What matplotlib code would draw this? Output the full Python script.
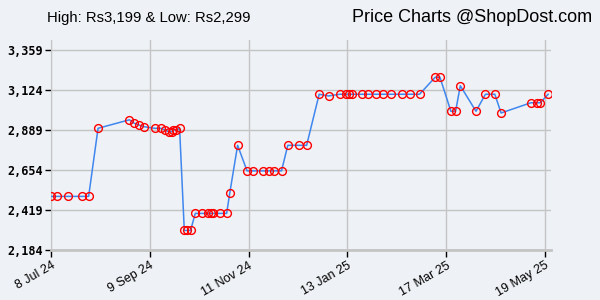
import numpy as np
import matplotlib
matplotlib.use("Agg")
import matplotlib.pyplot as plt
import matplotlib.dates as mdates
from datetime import datetime

# price history
dates = ["2024-07-08", "2024-07-12", "2024-07-19", "2024-07-28", "2024-08-01",
         "2024-08-07", "2024-08-27", "2024-08-30", "2024-09-02", "2024-09-05",
         "2024-09-12", "2024-09-16", "2024-09-19", "2024-09-21", "2024-09-23",
         "2024-09-24", "2024-09-26", "2024-09-28", "2024-10-01", "2024-10-03",
         "2024-10-05", "2024-10-08", "2024-10-12", "2024-10-16", "2024-10-18",
         "2024-10-19", "2024-10-24", "2024-10-28", "2024-10-30", "2024-11-04",
         "2024-11-10", "2024-11-14", "2024-11-20", "2024-11-24", "2024-11-27",
         "2024-12-02", "2024-12-06", "2024-12-13", "2024-12-18", "2024-12-26",
         "2025-01-01", "2025-01-08", "2025-01-12", "2025-01-14", "2025-01-16",
         "2025-01-22", "2025-01-26", "2025-01-31", "2025-02-05", "2025-02-10",
         "2025-02-17", "2025-02-22", "2025-02-28", "2025-03-10", "2025-03-13",
         "2025-03-20", "2025-03-23", "2025-03-26", "2025-04-05", "2025-04-11",
         "2025-04-17", "2025-04-21", "2025-05-10", "2025-05-14", "2025-05-16",
         "2025-05-21"]
prices = [2499, 2499, 2499, 2499, 2499,
          2899, 2949, 2929, 2919, 2909,
          2899, 2899, 2889, 2879, 2879,
          2889, 2889, 2899, 2299, 2299,
          2299, 2399, 2399, 2399, 2399,
          2399, 2399, 2399, 2519, 2799,
          2649, 2649, 2649, 2649, 2649,
          2649, 2799, 2799, 2799, 3099,
          3089, 3099, 3099, 3099, 3099,
          3099, 3099, 3099, 3099, 3099,
          3099, 3099, 3099, 3199, 3199,
          2999, 2999, 3149, 2999, 3099,
          3099, 2989, 3049, 3049, 3049,
          3099]

yticks = [2184, 2419, 2654, 2889, 3124, 3359]
xticks = ["2024-07-08", "2024-09-09", "2024-11-11", "2025-01-13", "2025-03-17", "2025-05-19"]
xticklabels = ["8 Jul 24", "9 Sep 24", "11 Nov 24", "13 Jan 25", "17 Mar 25", "19 May 25"]

x = [datetime.strptime(d, "%Y-%m-%d") for d in dates]
xt = [datetime.strptime(d, "%Y-%m-%d") for d in xticks]

bg = "#eef1f5"
fig = plt.figure(figsize=(6, 3), dpi=100, facecolor=bg)
ax = fig.add_axes([51/600, 50/300, 500/600, 210/300])
ax.set_facecolor(bg)

ax.plot(x, prices, color="#3f86ef", lw=1.1, zorder=3)
ax.plot(x, prices, ls="none", marker="o", ms=5.6, mfc="none", mec="#ff0000",
        mew=1.0, zorder=4)

ax.set_xlim(xt[0], datetime(2025, 5, 22, 20))
ax.set_ylim(2184, 3359 + 10*5.875)
ax.set_yticks(yticks)
ax.set_yticklabels(["{:,}".format(v) for v in yticks],
                   family="DejaVu Sans Mono", fontweight="bold", fontsize=8.5)
ax.set_xticks(xt)
ax.set_xticklabels(xticklabels, rotation=30, ha="right", rotation_mode="anchor",
                   family="Liberation Sans", fontsize=9)

ax.grid(True, color="#c4c4c4", lw=1.0)
ax.set_axisbelow(True)
for s in ["top", "right"]:
    ax.spines[s].set_visible(False)
ax.spines["left"].set_color("#c4c4c4")
ax.spines["bottom"].set_color("#c4c4c4")
ax.spines["bottom"].set_linewidth(2)
ax.tick_params(axis="y", length=4, width=1, color="black", pad=2)
ax.tick_params(axis="x", length=5, width=1, color="black", pad=2)

fig.text(47/600, 1 - 18/300, "High: Rs3,199 & Low: Rs2,299", family="Liberation Sans",
         fontsize=10.7, va="center", ha="left")
fig.text(592/600, 1 - 18/300, "Price Charts @ShopDost.com", family="Liberation Sans",
         fontsize=13, va="center", ha="right")

fig.savefig("out.png", dpi=100, facecolor=bg)
